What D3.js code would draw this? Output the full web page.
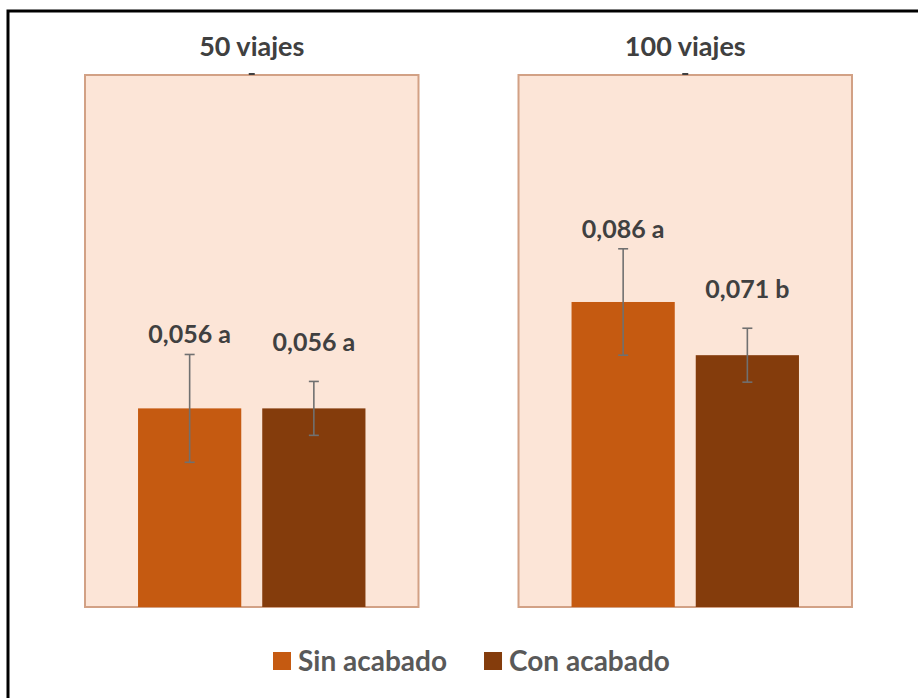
<!DOCTYPE html>
<html>
<head>
<meta charset="utf-8">
<script src="https://cdn.jsdelivr.net/npm/d3@7/dist/d3.min.js"></script>
<style>
  html, body { margin: 0; padding: 0; background: #ffffff; }
  svg { display: block; }
</style>
</head>
<body>
<svg id="chart" width="918" height="698"></svg>
<script>
// ---- data ----
const panels = ["50 viajes", "100 viajes"];
const series = ["Sin acabado", "Con acabado"];
const sinValues = [0.056, 0.086];
const conValues = [0.056, 0.071];
const sinErrors = [0.0152, 0.0150];
const conErrors = [0.0076, 0.0076];
const sinLetters = ["a", "a"];
const conLetters = ["a", "b"];

// ---- styles ----
const colors = ["#C55A11", "#843C0C"];
const panelFill = "#FCE5D7";
const panelStroke = "#D2A185";
const textColor = "#404040";
const legendColor = "#595959";
const font = "Lato, 'Open Sans', sans-serif";

const svg = d3.select("#chart");

// outer frame
svg.append("rect")
  .attr("x", 8).attr("y", 11)
  .attr("width", 960).attr("height", 760)
  .attr("fill", "none").attr("stroke", "#000").attr("stroke-width", 3);

const plotTop = 75, plotBottom = 607;
const y = d3.scaleLinear().domain([0, 0.15]).range([plotBottom, plotTop]);
const xPanel = d3.scaleBand().domain(panels).range([85, 852]).paddingInner(0.2307).paddingOuter(0);
const xBar = d3.scaleBand().domain(series).range([0, xPanel.bandwidth()]).paddingInner(0.169).paddingOuter(0.427);

const locale = d3.formatLocale({decimal: ",", thousands: ".", grouping: [3], currency: ["", "€"]});
const fmt = locale.format(".3f");

const values = [sinValues, conValues];
const errors = [sinErrors, conErrors];
const letters = [sinLetters, conLetters];
const labelOffsets = [11, 30];

panels.forEach((p, pi) => {
  const g = svg.append("g").attr("transform", `translate(${xPanel(p)},0)`);
  g.append("rect")
    .attr("x", 0).attr("y", plotTop)
    .attr("width", xPanel.bandwidth()).attr("height", plotBottom - plotTop)
    .attr("fill", panelFill).attr("stroke", panelStroke).attr("stroke-width", 2);

  // title
  g.append("text")
    .attr("x", xPanel.bandwidth() / 2).attr("y", 56)
    .attr("text-anchor", "middle")
    .attr("font-family", font).attr("font-weight", "bold").attr("font-size", 27)
    .attr("fill", textColor).text(p);

  // small dash at top
  g.append("line")
    .attr("x1", xPanel.bandwidth() / 2 - 3).attr("x2", xPanel.bandwidth() / 2 + 3)
    .attr("y1", plotTop - 1).attr("y2", plotTop - 1)
    .attr("stroke", "#404040").attr("stroke-width", 2);

  series.forEach((s, si) => {
    const v = values[si][pi], e = errors[si][pi];
    const bx = xBar(s), bw = xBar.bandwidth(), cx = bx + bw / 2;
    g.append("rect")
      .attr("x", bx).attr("y", y(v))
      .attr("width", bw).attr("height", y(0) - y(v))
      .attr("fill", colors[si]);
    // error bar
    const eg = g.append("g").attr("stroke", "#707070").attr("stroke-width", 1.6);
    eg.append("line").attr("x1", cx).attr("x2", cx).attr("y1", y(v + e)).attr("y2", y(v - e));
    eg.append("line").attr("x1", cx - 5).attr("x2", cx + 5).attr("y1", y(v + e)).attr("y2", y(v + e));
    eg.append("line").attr("x1", cx - 5).attr("x2", cx + 5).attr("y1", y(v - e)).attr("y2", y(v - e));
    // label
    g.append("text")
      .attr("x", cx).attr("y", y(v + e) - labelOffsets[si])
      .attr("text-anchor", "middle")
      .attr("font-family", font).attr("font-weight", "bold").attr("font-size", 25)
      .attr("fill", textColor)
      .text(fmt(v) + " " + letters[si][pi]);
  });
});

// legend
const legend = svg.append("g");
let lx = 273;
series.forEach((s, si) => {
  legend.append("rect")
    .attr("x", lx).attr("y", 652).attr("width", 18).attr("height", 18)
    .attr("fill", colors[si]);
  const t = legend.append("text")
    .attr("x", lx + 25).attr("y", 671)
    .attr("font-family", font).attr("font-weight", "bold").attr("font-size", 28)
    .attr("fill", legendColor).text(s);
  lx += 25 + t.node().getComputedTextLength() + 37;
});
</script>
</body>
</html>
